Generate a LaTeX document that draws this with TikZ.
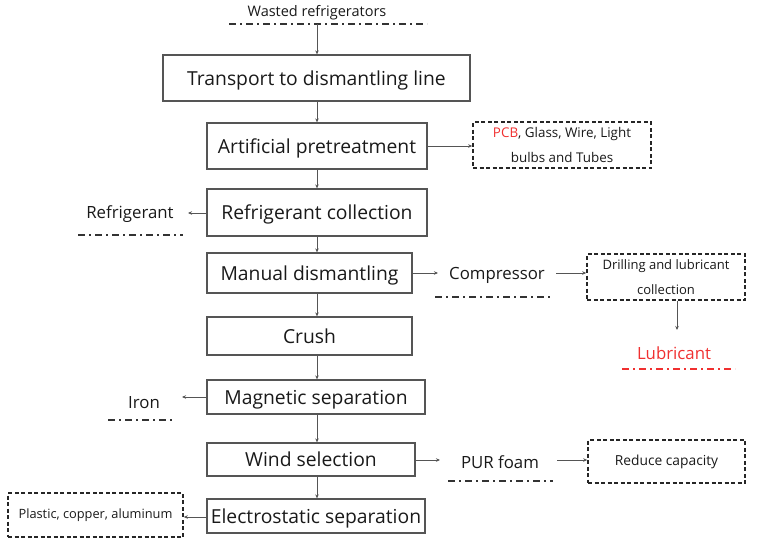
\documentclass[tikz,border=0pt]{standalone}
\usepackage{fontspec}
\setmainfont{Open Sans}
\usetikzlibrary{arrows.meta,positioning}
\definecolor{boxline}{HTML}{555555}
\definecolor{lubred}{HTML}{F03030}
\tikzset{
  stepbox/.style={draw=boxline,line width=1.3pt,minimum height=#1,inner sep=0pt,text height=19pt,text depth=4.5pt},
  stepbox/.default=46pt,
  outbox/.style={draw=black!85,line width=1.6pt,dash pattern=on 4pt off 2.5pt,inner sep=0pt,align=center},
  flow/.style={draw=boxline,line width=0.8pt,-{Stealth[length=4pt,width=3.5pt]}},
  ddline/.style={draw=black!80,line width=1.6pt,dash pattern=on 7pt off 4pt on 2pt off 4pt},
  big/.style={font=\fontsize{19.3}{23}\selectfont,text=black!90},
  mid/.style={font=\fontsize{16.8}{20}\selectfont,text=black!90},
  small/.style={font=\fontsize{13.4}{25}\selectfont,text=black!90},
}
\begin{document}
\begin{tikzpicture}[x=1pt,y=-1pt]
\useasboundingbox (0,0) rectangle (760,543);

% input
\node[font=\fontsize{14.5}{17}\selectfont,text=black!90] (waste) at (317,13) {Wasted refrigerators};
\coordinate (wl) at (229,24); \coordinate (wr) at (427,24); \coordinate (wm) at (317,24);
\draw[ddline] (wl) -- (wr);

% main process chain
\node[stepbox, minimum width=307pt, big] (transport) at (316.5,78) {Transport to dismantling line};
\node[stepbox, minimum width=220pt, big] (artif) at (317,146) {Artificial pretreatment};
\node[stepbox, minimum width=220pt, minimum height=47pt, big] (refcol) at (317,212.5) {Refrigerant collection};
\node[stepbox, minimum width=205pt, minimum height=40pt, big] (manual) at (309.5,273) {Manual dismantling};
\node[stepbox, minimum width=205pt, minimum height=38pt, big] (crush) at (309.5,336) {Crush};
\node[stepbox, minimum width=218pt, minimum height=34pt, big] (magnet) at (316,397) {Magnetic separation};
\node[stepbox, minimum width=208pt, minimum height=33pt, big] (wind) at (311,459.5) {Wind selection};
\node[stepbox, minimum width=218pt, minimum height=34pt, big] (electro) at (316,516) {Electrostatic separation};

\draw[flow] (wm) -- (wm |- transport.north);
\draw[flow] (transport.south -| 317,0) -- (artif.north -| 317,0);
\draw[flow] (artif.south -| 317,0) -- (refcol.north -| 317,0);
\draw[flow] (refcol.south -| 317,0) -- (manual.north -| 317,0);
\draw[flow] (manual.south -| 317,0) -- (crush.north -| 317,0);
\draw[flow] (crush.south -| 317,0) -- (magnet.north -| 317,0);
\draw[flow] (magnet.south -| 317,0) -- (wind.north -| 317,0);
\draw[flow] (wind.south -| 317,0) -- (electro.north -| 317,0);

% side outputs
\node[outbox, small, minimum width=178pt, minimum height=46pt] (pcb) at (562,145)
  {\textcolor{lubred}{PCB}, Glass, Wire, Light\\bulbs and Tubes};
\draw[flow] (artif.east) -- (pcb.west |- artif.east);

\node[mid] (refr) at (130,214) {Refrigerant};
\draw[ddline] (78,235) -- (183,235);
\coordinate (refrend) at (188,213);
\draw[flow] (refcol.west |- refrend) -- (refrend);

\node[mid] (comp) at (497,275) {Compressor};
\draw[ddline] (435,297) -- (550,297);
\coordinate (compin) at (438,273);
\draw[flow] (manual.east |- compin) -- (compin);

\node[outbox, font=\fontsize{13}{25}\selectfont, text=black!90, minimum width=158pt, minimum height=46pt] (drill) at (666,277)
  {Drilling and lubricant\\collection};
\draw[flow] (556,273) -- (drill.west |- 0,273);

\node[mid, text=lubred] (lub) at (674,353) {Lubricant};
\draw[ddline, draw=lubred] (622,369) -- (735,369);
\coordinate (lubin) at (677,330);
\draw[flow] (drill.south -| lubin) -- (lubin);

\node[mid] (iron) at (144,403) {Iron};
\draw[ddline] (108,420) -- (172,420);
\coordinate (ironin) at (182,397);
\draw[flow] (magnet.west |- ironin) -- (ironin);

\node[mid] (pur) at (500,462) {PUR foam};
\draw[ddline] (448,481) -- (553,481);
\coordinate (purin) at (440,460);
\draw[flow] (wind.east |- purin) -- (purin);

\node[outbox, font=\fontsize{13.8}{16}\selectfont, text=black!90, minimum width=157pt, minimum height=43pt] (reduce) at (666.5,461.5) {Reduce capacity};
\draw[flow] (557,460) -- (reduce.west |- 0,460);

\node[outbox, font=\fontsize{12.8}{15}\selectfont, text=black!90, minimum width=175pt, minimum height=44pt] (plastic) at (95.5,515) {Plastic, copper, aluminum};
\draw[flow] (electro.west |- 0,517) -- (plastic.east |- 0,517);

\end{tikzpicture}
\end{document}
